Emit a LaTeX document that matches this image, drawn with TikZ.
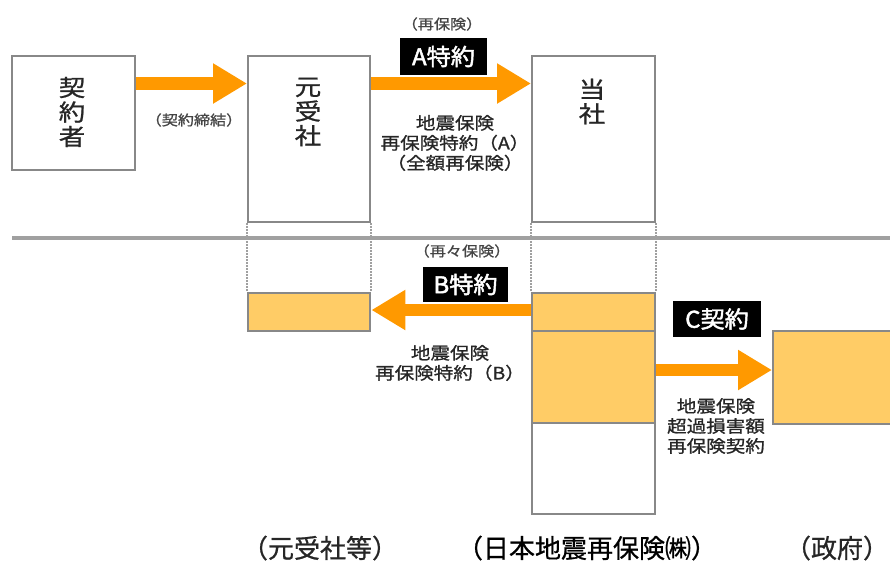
\documentclass[tikz,border=0pt]{standalone}
\usepackage{fontspec}
\setmainfont{Noto Sans CJK JP}
\newfontfamily\jp[FakeStretch=1.15,FakeBold=1]{Noto Sans CJK JP}
\newfontfamily\jpc[FakeBold=0.8]{Noto Sans CJK JP}
\newfontfamily\jpb[FakeStretch=1.05,FakeBold=2]{Noto Sans CJK JP}
\usetikzlibrary{arrows.meta}
\definecolor{org}{HTML}{FF9900}
\definecolor{lorg}{HTML}{FFCC66}
\definecolor{bgray}{HTML}{888888}
\definecolor{lgray}{HTML}{A0A0A0}
\definecolor{tgray}{HTML}{444444}
\tikzset{
  box/.style={draw=bgray, line width=2.4pt, fill=white, inner sep=0pt, anchor=north west},
  obox/.style={box, fill=lorg},
  boxtxt/.style={font=\jp\fontsize{23}{24.5}\selectfont, align=center, inner sep=0pt, text=black!85},
  small/.style={font=\jp\fontsize{14}{16}\selectfont, text=tgray, inner sep=0pt},
  mid/.style={font=\jp\fontsize{17}{20}\selectfont, align=center, inner sep=0pt, text=black!85},
  tag/.style={fill=black, text=white, font=\jpb\fontsize{23}{24}\selectfont, inner sep=0pt},
  bottom/.style={font=\jpc\fontsize{26}{28}\selectfont, inner sep=0pt, text=black!85},
  bigarrow/.style={draw=org, line width=12.5pt, -{Triangle[length=34pt,width=38pt]}},
  dotline/.style={draw=lgray, line width=2pt, dash pattern=on 1.5pt off 1.5pt},
}
\begin{document}
\begin{tikzpicture}[x=1pt,y=-1pt]
\useasboundingbox (0,0) rectangle (890,563);
% upper boxes
\node[box, minimum width=123pt, minimum height=114pt] (kei) at (11,55) {};
\node[box, minimum width=122pt, minimum height=166pt] (moto) at (247,55) {};
\node[box, minimum width=123pt, minimum height=166pt] (tosha) at (531,55) {};
\node[boxtxt] (keit) at (72,112) {契\\約\\者};
\node[boxtxt] (motot) at (308,112) {元\\受\\社};
\node[boxtxt] (tosht) at (592,101.5) {当\\社};
% separator
\coordinate (sepL) at (12,238);
\coordinate (sepR) at (890,238);
\draw[lgray, line width=4.5pt] (sepL) -- (sepR);
% lower boxes
\node[obox, minimum width=122pt, minimum height=38pt] (mlow) at (247,292) {};
\node[obox, minimum width=123pt, minimum height=38pt] (tlowa) at (531,292) {};
\node[obox, minimum width=123pt, minimum height=92pt] (tlowb) at (531,330) {};
\node[box, minimum width=123pt, minimum height=91pt] (tlowc) at (531,422) {};
\node[obox, minimum width=122pt, minimum height=93pt] (gov) at (772,330) {};
% dotted connectors
\draw[dotline] (moto.south west) -- (mlow.north west);
\draw[dotline] (moto.south east) -- (mlow.north east);
\draw[dotline] (tosha.south west) -- (tlowa.north west);
\draw[dotline] (tosha.south east) -- (tlowa.north east);
% arrows
\coordinate (ya) at (0,83.5);
\coordinate (yb) at (0,310);
\coordinate (yc) at (0,370);
\draw[bigarrow] (kei.east |- ya) -- (moto.west |- ya);
\draw[bigarrow] (moto.east |- ya) -- (tosha.west |- ya);
\draw[bigarrow] (tlowa.west |- yb) -- (mlow.east |- yb);
\draw[bigarrow] (tlowb.east |- yc) -- (gov.west |- yc);
% labels
\node[small] (l1) at (194,120) {（契約締結）};
\node[small] (l2) at (442,24) {（再保険）};
\node[tag, minimum width=87pt, minimum height=37pt] (ta) at (443.5,56.5) {A特約};
\node[mid] (l3) at (455,143) {地震保険\\再保険特約（A）\\（全額再保険）};
\node[small] (l4) at (462,251) {（再々保険）};
\node[tag, minimum width=85pt, minimum height=35pt] (tb) at (465.5,284.5) {B特約};
\node[mid] (l5) at (450,363) {地震保険\\再保険特約（B）};
\node[tag, minimum width=88pt, minimum height=36pt] (tc) at (717,319) {C契約};
\node[mid] (l6) at (716,426) {地震保険\\超過損害額\\再保険契約};
% bottom captions
\node[bottom] (b1) at (320,548) {（元受社等）};
\node[bottom, text=black] (b2) at (587,548) {（日本地震再保険㈱）};
\node[bottom] (b3) at (837,548) {（政府）};
\end{tikzpicture}
\end{document}
